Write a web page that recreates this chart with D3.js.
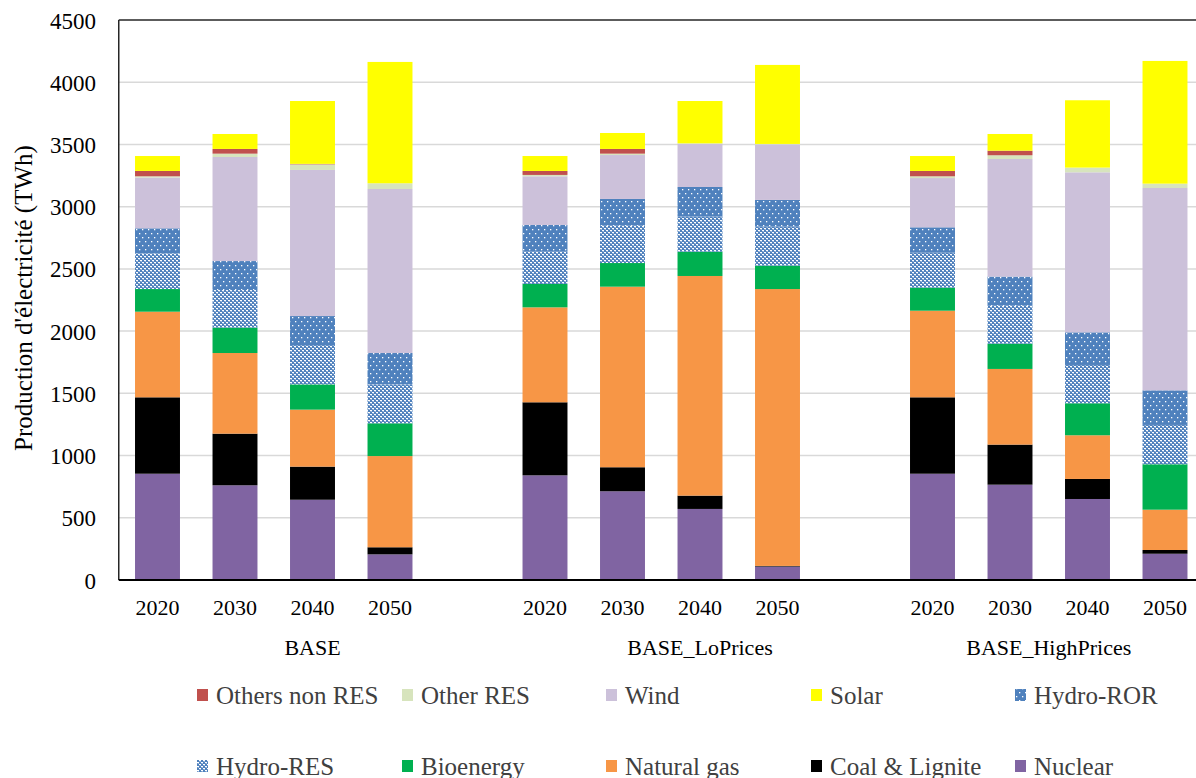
<!DOCTYPE html>
<html><head><meta charset="utf-8">
<script src="https://cdn.jsdelivr.net/npm/d3@7/dist/d3.min.js"></script>
<style>body{margin:0;background:#fff}svg{display:block}svg text{font-family:"Liberation Serif","Times New Roman",Tinos,Times,"DejaVu Serif",serif !important}</style>
</head><body><svg id="c" width="1196" height="778"></svg>
<script>
// ---- data ----
const scenarios = ["BASE", "BASE_LoPrices", "BASE_HighPrices"];
const years = ["2020", "2030", "2040", "2050"];
const yTicks = [0, 500, 1000, 1500, 2000, 2500, 3000, 3500, 4000, 4500];
// series in stacking order (bottom -> top); 12 values: BASE 2020..2050, LoPrices 2020..2050, HighPrices 2020..2050
const seriesNames = ["Nuclear", "Coal & Lignite", "Natural gas", "Bioenergy", "Hydro-RES", "Hydro-ROR", "Wind", "Other RES", "Others non RES", "Solar"];
const nuclear     = [854, 761, 645, 206,   841, 713, 571, 108,   854, 766, 651, 211];
const coal        = [614, 415, 266, 57,    587, 193, 107, 5,     614, 322, 161, 30];
const naturalGas  = [688, 648, 458, 733,   763, 1451, 1765, 2225, 696, 608, 351, 324];
const bioenergy   = [182, 204, 203, 263,   188, 190, 195, 188,   185, 203, 257, 365];
const hydroRES    = [287, 302, 316, 313,   259, 300, 282, 313,   281, 305, 308, 316];
const hydroROR    = [201, 233, 233, 252,   215, 215, 238, 215,   204, 234, 262, 278];
const wind        = [408, 836, 1174, 1318, 391, 353, 347, 446,   396, 945, 1286, 1626];
const otherRES    = [10, 27, 45, 46,       11, 11, 4, 4,         14, 30, 38, 35];
const othersNonRES= [43, 38, 4, 0,         32, 38, 0, 0,         43, 37, 0, 0];
const solar       = [120, 120, 505, 975,   120, 128, 340, 635,   120, 134, 541, 986];
const legendOrder = ["Others non RES", "Other RES", "Wind", "Solar", "Hydro-ROR", "Hydro-RES", "Bioenergy", "Natural gas", "Coal & Lignite", "Nuclear"];

const seriesValues = [nuclear, coal, naturalGas, bioenergy, hydroRES, hydroROR, wind, otherRES, othersNonRES, solar];
const colors = {
  "Nuclear": "#8064A2", "Coal & Lignite": "#000000", "Natural gas": "#F79646", "Bioenergy": "#00B050",
  "Hydro-RES": "url(#patRES)", "Hydro-ROR": "url(#patROR)", "Wind": "#CCC1DA", "Other RES": "#D7E4BD",
  "Others non RES": "#C0504D", "Solar": "#FFFF00"
};

// categories (with blank separator slots, as in the original)
const slots = [];
const rows = [];
scenarios.forEach((s, si) => {
  years.forEach(yr => { slots.push(s + "|" + yr); });
  if (si < scenarios.length - 1) slots.push(s + "|gap");
});
scenarios.forEach(s => years.forEach(yr => rows.push({ key: s + "|" + yr, scenario: s, year: yr })));
rows.forEach((r, i) => seriesNames.forEach((n, k) => r[n] = seriesValues[k][i]));

// ---- chart ----
const FONT = '"Liberation Serif","Times New Roman",Tinos,Times,"DejaVu Serif",serif';
const svg = d3.select("#c");
const plotLeft = 118.75, plotTop = 20, plotBottom = 580;
const x = d3.scaleBand().domain(slots).range([plotLeft, plotLeft + 14 * 77.5]).paddingInner(0.42).paddingOuter(0.21);
const y = d3.scaleLinear().domain([0, 4500]).range([plotBottom, plotTop]);

const defs = svg.append("defs");
// Hydro-ROR: blue with sparse white dots
const pr = defs.append("pattern").attr("id", "patROR").attr("patternUnits", "userSpaceOnUse").attr("width", 6).attr("height", 8);
pr.append("rect").attr("width", 6).attr("height", 8).attr("fill", "#4F81BD");
pr.append("rect").attr("x", 1).attr("y", 1).attr("width", 1.3).attr("height", 1.3).attr("fill", "#ffffff");
pr.append("rect").attr("x", 4).attr("y", 5).attr("width", 1.3).attr("height", 1.3).attr("fill", "#ffffff");
// Hydro-RES: blue with dense white checker
const ps = defs.append("pattern").attr("id", "patRES").attr("patternUnits", "userSpaceOnUse").attr("width", 4).attr("height", 4);
ps.append("rect").attr("width", 4).attr("height", 4).attr("fill", "#4F81BD");
ps.append("rect").attr("x", 0).attr("y", 0).attr("width", 2).attr("height", 1.2).attr("fill", "#ffffff");
ps.append("rect").attr("x", 2).attr("y", 2).attr("width", 2).attr("height", 1.2).attr("fill", "#ffffff");
ps.append("rect").attr("x", 1).attr("y", 1).attr("width", 1).attr("height", 1).attr("fill", "#9fb9dc");
ps.append("rect").attr("x", 3).attr("y", 3).attr("width", 1).attr("height", 1).attr("fill", "#9fb9dc");

// gridlines
svg.append("g").selectAll("line").data(yTicks.filter(t => t > 0 && t < 4500)).join("line")
  .attr("x1", plotLeft).attr("x2", 1196).attr("y1", d => y(d)).attr("y2", d => y(d))
  .attr("stroke", "#d9d9d9").attr("stroke-width", 1.5);

// stacked bars
const stack = d3.stack().keys(seriesNames);
const stacked = stack(rows);
svg.append("g").selectAll("g").data(stacked).join("g")
  .attr("fill", d => colors[d.key])
  .selectAll("rect").data(d => d).join("rect")
  .attr("x", d => x(d.data.key)).attr("width", x.bandwidth())
  .attr("y", d => y(d[1])).attr("height", d => Math.max(0, y(d[0]) - y(d[1])));

// frame: top and left border
svg.append("line").attr("x1", plotLeft).attr("x2", 1196).attr("y1", plotTop).attr("y2", plotTop).attr("stroke", "#262626").attr("stroke-width", 1.5);
svg.append("line").attr("x1", plotLeft).attr("x2", plotLeft).attr("y1", plotTop).attr("y2", plotBottom).attr("stroke", "#262626").attr("stroke-width", 1.5);

// y axis
const yAxis = d3.axisLeft(y).tickValues(yTicks).tickSize(0).tickPadding(0).tickFormat(d3.format("d"));
const ya = svg.append("g").attr("transform", "translate(96,0)").call(yAxis).attr("font-family", FONT);
ya.select(".domain").remove();
ya.selectAll("text").attr("font-size", 23).attr("fill", "#000").attr("x", 0).attr("dy", "0.35em");

// x axis (years)
const xAxis = d3.axisBottom(x).tickSize(0).tickPadding(0).tickFormat(d => d.endsWith("gap") ? "" : d.split("|")[1]);
const xa = svg.append("g").attr("transform", `translate(0,${plotBottom})`).call(xAxis).attr("font-family", FONT);
xa.select(".domain").attr("stroke", "#000").attr("stroke-width", 1.8).attr("d", `M${plotLeft},0H1196`);
xa.selectAll("text").attr("font-size", 22).attr("fill", "#000").attr("y", 27).attr("dy", "0.35em");

// scenario group labels
scenarios.forEach(s => {
  const own = slots.filter(k => k.startsWith(s + "|"));
  const x0 = x(own[0]) - x.step() * x.paddingInner() / 2;
  const x1 = x(own[own.length - 1]) + x.bandwidth() + x.step() * x.paddingInner() / 2;
  svg.append("text").attr("x", (x0 + x1) / 2).attr("y", 647).attr("dy", "0.35em").attr("font-family", FONT)
    .attr("text-anchor", "middle").attr("font-size", 22).attr("fill", "#000").text(s);
});

// y title
svg.append("text").attr("transform", "translate(23,298) rotate(-90)").attr("text-anchor", "middle").attr("font-family", FONT)
  .attr("dy", "0.35em").attr("font-size", 25).attr("fill", "#000").text("Production d'électricité (TWh)");

// legend
const legendX = [197, 402, 606, 811, 1015];
const legendY = [695, 766];
const lg = svg.append("g").attr("font-family", FONT).selectAll("g").data(legendOrder).join("g")
  .attr("transform", (d, i) => `translate(${legendX[i % 5]},${legendY[Math.floor(i / 5)]})`);
lg.append("rect").attr("x", 0).attr("y", -6).attr("width", 11).attr("height", 12).attr("fill", d => colors[d]);
lg.append("text").attr("x", 19).attr("dy", "0.35em").attr("font-size", 25).attr("fill", "#404040").text(d => d);
</script></body></html>
